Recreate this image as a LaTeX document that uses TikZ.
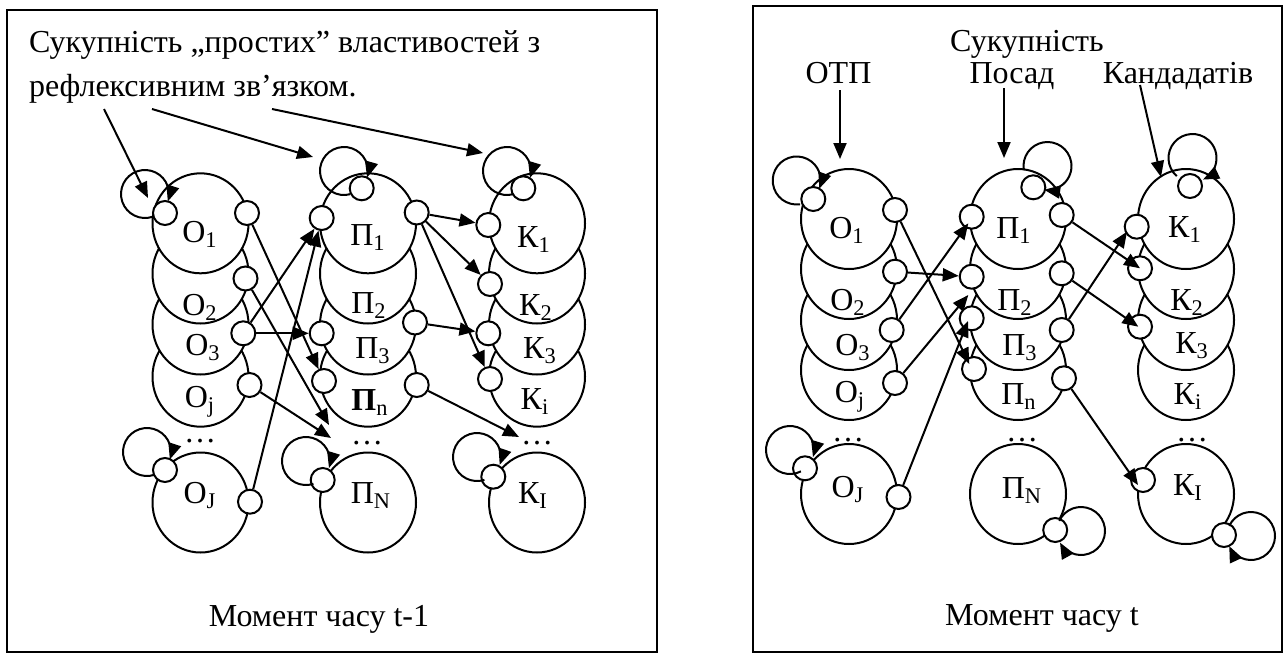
\documentclass[tikz,border=0pt]{standalone}
\usepackage{fontspec}
\setmainfont{Liberation Serif}
\usetikzlibrary{arrows.meta,shapes.geometric}
\begin{document}
\begin{tikzpicture}[x=0.5pt,y=-0.5pt,
  every node/.style={font=\fontsize{16}{19}\selectfont},
  big/.style={ellipse, draw, fill=white, line width=1pt, minimum width=48pt, minimum height=50pt, inner sep=0pt},
  port/.style={circle, draw, fill=white, line width=1pt, minimum size=12pt, inner sep=0pt},
  lbl/.style={anchor=base, inner sep=0pt},
  txt/.style={inner sep=0pt},
  arr/.style={line width=1pt, -{Triangle[length=8pt,width=6.5pt]}},
  frame/.style={draw, line width=1pt}]
\useasboundingbox (0,0) rectangle (1288,653);
% frames
\draw[frame] (7,9.5) rectangle (657,651.5);
\draw[frame] (753,5.7) rectangle (1282,651.7);

% ---------------- LEFT PANEL ----------------
\foreach \c/\x in {O/200.5,P/368,K/537}{
  \node[big] (L\c4) at (\x,376.7) {};
  \node[big] (L\c3) at (\x,324.5) {};
  \node[big] (L\c2) at (\x,273.5) {};
  \node[big] (L\c1) at (\x,223.3) {};
  \node[big] (L\c5) at (\x,502.5) {};
}
% labels
\node[lbl] (lbO1) at (200,242) {О\textsubscript{1}};
\node[lbl] (lbO2) at (200,315) {О\textsubscript{2}};
\node[lbl] (lbO3) at (203,355) {О\textsubscript{3}};
\node[lbl] (lbOj) at (200,407) {О\textsubscript{j}};
\node[lbl] (lbOd) at (200,442) {…};
\node[lbl] (lbOJ) at (200,503) {О\textsubscript{J}};
\node[lbl] (lbP1) at (368,245) {П\textsubscript{1}};
\node[lbl] (lbP2) at (369,313) {П\textsubscript{2}};
\node[lbl] (lbP3) at (373,358) {П\textsubscript{3}};
\node[lbl] (lbPn) at (370,410) {\textbf{П}\textsubscript{n}};
\node[lbl] (lbPd) at (367,444) {…};
\node[lbl] (lbPN) at (371,503) {П\textsubscript{N}};
\node[lbl] (lbK1) at (534,247) {К\textsubscript{1}};
\node[lbl] (lbK2) at (536,315) {К\textsubscript{2}};
\node[lbl] (lbK3) at (540,358) {К\textsubscript{3}};
\node[lbl] (lbKi) at (535,409) {К\textsubscript{i}};
\node[lbl] (lbKd) at (537,444) {…};
\node[lbl] (lbKI) at (533,503) {К\textsubscript{I}};
% ports
\node[port] (lO1a) at (165,213) {};
\node[port] (lO1b) at (247,213) {};
\node[port] (lO2b) at (245.5,278.5) {};
\node[port] (lO3b) at (243.3,333.3) {};
\node[port] (lOjb) at (249.5,385) {};
\node[port] (lOJa) at (165,470) {};
\node[port] (lOJb) at (250,501.7) {};
\node[port] (lP1t) at (361.7,188.3) {};
\node[port] (lP1a) at (321.7,218) {};
\node[port] (lP1b) at (416.7,212.5) {};
\node[port] (lP2b) at (415,322.5) {};
\node[port] (lP3a) at (321.7,333.3) {};
\node[port] (lPna) at (324,381) {};
\node[port] (lPnb) at (416.7,385) {};
\node[port] (lPNa) at (322.7,480) {};
\node[port] (lK1t) at (523.3,188.3) {};
\node[port] (lK1a) at (488.3,225) {};
\node[port] (lK2a) at (490,284) {};
\node[port] (lK3a) at (488.3,333.3) {};
\node[port] (lKia) at (490,379) {};
\node[port] (lKIa) at (493.3,476.7) {};
% loops
\coordinate (cLO1) at (145,194);
\coordinate (cLP1) at (344,171);
\coordinate (cLK1) at (507,171);
\coordinate (cLOJ) at (147,452);
\coordinate (cLPN) at (306,461);
\coordinate (cLKI) at (477,457);
\draw[arr] ([shift={(-71:12pt)}]cLO1) arc[start angle=-71, end angle=-378, radius=12pt];
\draw[arr] ([shift={(-75:12pt)}]cLP1) arc[start angle=-75, end angle=-376, radius=12pt];
\draw[arr] ([shift={(-75:12pt)}]cLK1) arc[start angle=-75, end angle=-377, radius=12pt];
\draw[arr] ([shift={(-72:12pt)}]cLOJ) arc[start angle=-72, end angle=-378, radius=12pt];
\draw[arr] ([shift={(-72:12pt)}]cLPN) arc[start angle=-72, end angle=-377, radius=12pt];
\draw[arr] ([shift={(-72:12pt)}]cLKI) arc[start angle=-72, end angle=-379, radius=12pt];
% title
\node[txt, anchor=base west] (lt1) at (28.6,52) {Сукупність „простих” властивостей з};
\node[txt, anchor=base west] (lt2) at (28.6,96) {рефлексивним зв’язком.};
\coordinate (t1s) at (104,109);
\coordinate (t1e) at (148,198);
\coordinate (t2s) at (152,109);
\coordinate (t2e) at (313,157);
\coordinate (t3s) at (272,109);
\coordinate (t3e) at (483,153);
\draw[arr] (t1s) -- (t1e);
\draw[arr] (t2s) -- (t2e);
\draw[arr] (t3s) -- (t3e);
% connectors
\coordinate (eL2) at (329,425);
\coordinate (eL3) at (331,438);
\coordinate (eL11) at (519,437);
\draw[arr] (lO1b) -- (lPna);
\draw[arr] (lO2b) -- (eL2);
\draw[arr] (lOjb) -- (eL3);
\draw[arr] (lO3b) -- (lP1a);
\draw[arr] (lOJb) -- (lP1a);
\draw[arr] (lO3b) -- (lP3a);
\draw[arr] (lP1b) -- (lK1a);
\draw[arr] (lP1b) -- (lK2a);
\draw[arr] (lP1b) -- (lKia);
\draw[arr] (lP2b) -- (lK3a);
\draw[arr] (lPnb) -- (eL11);
\node[txt, anchor=base] (lbot) at (319,626.7) {Момент часу t-1};

% ---------------- RIGHT PANEL ----------------
\foreach \c/\x in {O/849,P/1018,K/1186}{
  \node[big] (R\c4) at (\x,370) {};
  \node[big] (R\c3) at (\x,320) {};
  \node[big] (R\c2) at (\x,269) {};
  \node[big] (R\c1) at (\x,219) {};
  \node[big] (R\c5) at (\x,494) {};
}
\node[lbl] (rbO1) at (847,238) {О\textsubscript{1}};
\node[lbl] (rbO2) at (848,310) {О\textsubscript{2}};
\node[lbl] (rbO3) at (853,355) {О\textsubscript{3}};
\node[lbl] (rbOj) at (850,402) {О\textsubscript{j}};
\node[lbl] (rbOd) at (848,441) {…};
\node[lbl] (rbOJ) at (848,497) {О\textsubscript{J}};
\node[lbl] (rbP1) at (1014,238) {П\textsubscript{1}};
\node[lbl] (rbP2) at (1015,310) {П\textsubscript{2}};
\node[lbl] (rbP3) at (1020,355) {П\textsubscript{3}};
\node[lbl] (rbPn) at (1019,404) {П\textsubscript{n}};
\node[lbl] (rbPd) at (1022,441) {…};
\node[lbl] (rbPN) at (1022,498) {П\textsubscript{N}};
\node[lbl] (rbK1) at (1185,237) {К\textsubscript{1}};
\node[lbl] (rbK2) at (1187,310) {К\textsubscript{2}};
\node[lbl] (rbK3) at (1192,353) {К\textsubscript{3}};
\node[lbl] (rbKi) at (1188,404) {К\textsubscript{i}};
\node[lbl] (rbKd) at (1192,441) {…};
\node[lbl] (rbKI) at (1188,495) {К\textsubscript{I}};
% ports
\node[port] (rO1a) at (813.3,199) {};
\node[port] (rO1b) at (895,210) {};
\node[port] (rO2b) at (895,271.7) {};
\node[port] (rO3b) at (891.7,330) {};
\node[port] (rOjb) at (895,383) {};
\node[port] (rOJa) at (805,468.3) {};
\node[port] (rOJb) at (898.5,497) {};
\node[port] (rP1t) at (1033.3,187.3) {};
\node[port] (rP1a) at (971.7,216.7) {};
\node[port] (rP1b) at (1061.7,215) {};
\node[port] (rP2a) at (971.7,276.7) {};
\node[port] (rP2b) at (1061.7,273.3) {};
\node[port] (rP3a) at (971.7,318.3) {};
\node[port] (rP3b) at (1061.7,330) {};
\node[port] (rPna) at (974,369) {};
\node[port] (rPnb) at (1064,378.3) {};
\node[port] (rPNp) at (1055.2,530) {};
\node[port] (rK1t) at (1190,186) {};
\node[port] (rK1a) at (1136.7,226.7) {};
\node[port] (rK2a) at (1140,268.3) {};
\node[port] (rK3a) at (1140,326.7) {};
\node[port] (rKIa) at (1143,480) {};
\node[port] (rKIp) at (1224,535) {};
% loops
\coordinate (cRO1) at (796.7,180.5);
\coordinate (cROJ) at (790,450);
\coordinate (cRP1) at (1047.5,166);
\coordinate (cRK1) at (1192.5,158);
\coordinate (cRPN) at (1081,531);
\coordinate (cRKI) at (1251,536);
\draw[arr] ([shift={(-82:12pt)}]cRO1) arc[start angle=-82, end angle=-380, radius=12pt];
\draw[arr] ([shift={(-63:12pt)}]cROJ) arc[start angle=-63, end angle=-377, radius=12pt];
\draw[arr] ([shift={(190:12pt)}]cRP1) arc[start angle=190, end angle=-98, radius=12pt];
\draw[arr] ([shift={(229:12pt)}]cRK1) arc[start angle=229, end angle=-64, radius=12pt];
\draw[arr] ([shift={(155:12pt)}]cRPN) arc[start angle=155, end angle=-151, radius=12pt];
\draw[arr] ([shift={(155:12pt)}]cRKI) arc[start angle=155, end angle=-155, radius=12pt];
% titles
\node[txt, anchor=base] (rt0) at (1027,51) {Сукупність};
\node[txt, anchor=base] (rt1) at (838.5,83.5) {ОТП};
\node[txt, anchor=base] (rt2) at (1012,83) {Посад};
\node[txt, anchor=base] (rt3) at (1178,83) {Кандадатів};
\coordinate (u1s) at (840,90);
\coordinate (u1e) at (840,159);
\coordinate (u2s) at (1004,88);
\coordinate (u2e) at (1004,158);
\coordinate (u3s) at (1140,85);
\coordinate (u3e) at (1161,177);
\draw[arr] (u1s) -- (u1e);
\draw[arr] (u2s) -- (u2e);
\draw[arr] (u3s) -- (u3e);
% connectors
\coordinate (eR1) at (969.3,364);
\coordinate (eR3) at (968.3,223.3);
\coordinate (eR4) at (968.3,295);
\coordinate (eR5) at (968,321);
\coordinate (eR6) at (1140,268.3);
\coordinate (eR7) at (1138.3,326.7);
\coordinate (eR8) at (1127,231.7);
\coordinate (eR9) at (1138,485);
\draw[arr] (rO1b) -- (eR1);
\draw[arr] (rO2b) -- (rP2a);
\draw[arr] (rO3b) -- (eR3);
\draw[arr] (rOjb) -- (eR4);
\draw[arr] (rOJb) -- (eR5);
\draw[arr] (rP1b) -- (eR6);
\draw[arr] (rP2b) -- (eR7);
\draw[arr] (rP3b) -- (eR8);
\draw[arr] (rPnb) -- (eR9);
\node[txt, anchor=base] (rbot) at (1042,625) {Момент часу t};
\end{tikzpicture}
\end{document}
